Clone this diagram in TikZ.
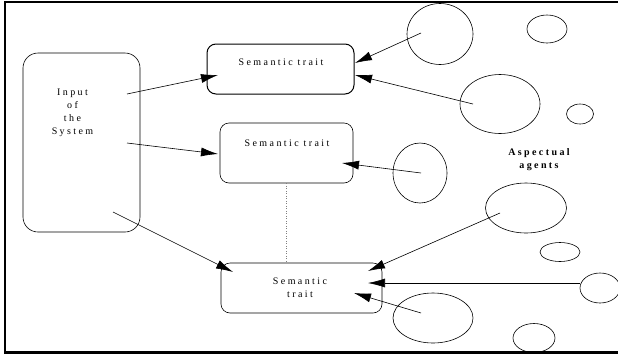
\documentclass[tikz,border=0pt]{standalone}
\usepackage{fontspec}
\setmainfont{Liberation Serif}
\newfontfamily\spacedfont[LetterSpace=24]{Liberation Serif}
\usetikzlibrary{arrows.meta,shapes.geometric}
\tikzset{
  box/.style={draw, line width=0.6pt, rounded corners=9pt, inner sep=0pt},
  agent/.style={draw, ellipse, line width=0.6pt, inner sep=0pt},
  lbl/.style={font=\spacedfont\fontsize{10}{13}\selectfont, align=center, inner sep=0pt},
  conn/.style={line width=0.6pt, -{Latex[length=17pt,width=9pt]}},
}
\begin{document}
\begin{tikzpicture}[x=1pt,y=-1pt]
\useasboundingbox (0,0) rectangle (618,354);
% frame
\draw[line width=2.2pt] (620,2) -- (5,2) -- (5,352.5) -- (620,352.5);
% input box
\node[box, rounded corners=15pt, minimum width=117pt, minimum height=179pt] (inp) at (81.5,142.5) {};
\node[lbl] (inptext) at (72.5,113) {Input\\of\\the\\System};
% semantic trait boxes
\node[box, line width=1pt, minimum width=147pt, minimum height=50pt] (b1) at (280.5,69) {};
\node[lbl] (t1) at (281,62) {Semantic trait};
\node[box, minimum width=133pt, minimum height=60pt] (b2) at (286.5,153) {};
\node[lbl] (t2) at (287,143) {Semantic trait};
\node[box, minimum width=161pt, minimum height=50pt] (b3) at (301.5,288) {};
\node[lbl] (t3) at (300,288) {Semantic\\trait};
% dotted link
\draw[dotted, gray, line width=0.5pt] (b2.south) -- (b2.south |- b3.north);
% agents
\node[agent, minimum width=66pt, minimum height=61pt] (e1) at (440,34) {};
\node[agent, minimum width=40pt, minimum height=28pt] (e2) at (547,29) {};
\node[agent, minimum width=80pt, minimum height=59pt] (e3) at (500,104) {};
\node[agent, minimum width=27pt, minimum height=20pt] (e4) at (580,114) {};
\node[agent, minimum width=54pt, minimum height=60pt] (e5) at (420,173) {};
\node[agent, minimum width=81pt, minimum height=50pt] (e6) at (526,208) {};
\node[agent, minimum width=40pt, minimum height=19pt] (e7) at (560,252) {};
\node[agent, minimum width=40pt, minimum height=30pt] (e8) at (600,288) {};
\node[agent, minimum width=80pt, minimum height=50pt] (e9) at (433,318) {};
\node[agent, minimum width=42pt, minimum height=29pt] (e10) at (534,338) {};
\node[lbl, font=\spacedfont\bfseries\fontsize{10}{13}\selectfont] (asp) at (539,159.5) {Aspectual\\agents};
% connector end points
\coordinate (s1) at (127,94);
\coordinate (s2) at (127,143);
\coordinate (s3) at (113,212);
\coordinate (d1) at (218,75);
\coordinate (d2) at (218,154);
\coordinate (d3) at (233,272);
\coordinate (s4) at (421,33);
\coordinate (d4) at (355,63);
\coordinate (s5) at (473,104);
\coordinate (d5) at (355,75);
\coordinate (s6) at (421,173);
\coordinate (d6) at (342,163);
\coordinate (s7) at (500,213);
\coordinate (d7) at (368,271);
\coordinate (s8) at (580,283);
\coordinate (d8) at (368,283);
\coordinate (s9) at (421,313);
\coordinate (d9) at (354,293);
\foreach \i in {1,...,9} {\draw[conn] (s\i) -- (d\i);}
\end{tikzpicture}
\end{document}
